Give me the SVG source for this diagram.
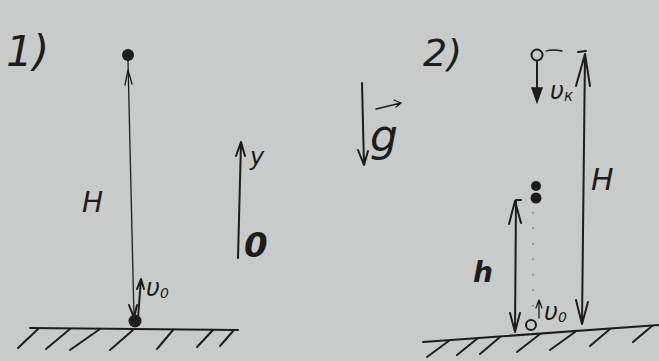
<svg xmlns="http://www.w3.org/2000/svg" width="659" height="361" viewBox="0 0 659 361">
<style>
.ink{stroke:#1d1d1d;fill:none;stroke-linecap:round;stroke-linejoin:round}
.thin{stroke-width:1.3}
.med{stroke-width:2}
.thick{stroke-width:2.6}
.t{font-family:"DejaVu Sans","Liberation Sans",sans-serif;font-style:italic;fill:#1d1d1d}
</style>
<rect width="659" height="361" fill="#c9cbca"/>
<g id="diagram1">
  <text class="t" x="6" y="66" font-size="42">1)</text>
  <g id="ball-top"><circle cx="128" cy="55" r="6" fill="#1d1d1d"/></g>
  <g id="ball-bottom"><circle cx="135" cy="321" r="6.5" fill="#1d1d1d"/></g>
  <g id="label-H1"><text class="t" x="82" y="212" font-size="28">H</text></g>
  <g id="label-v0-1"><text class="t" x="146" y="296" font-size="24">υ<tspan font-size="14" dy="2">0</tspan></text></g>
  <g id="y-axis">
    <path class="ink med" d="M238 258 L241 142 M236 156 L241 142 L245 156"/>
    <text class="t" x="250" y="165" font-size="24">y</text>
    <text class="t" x="244" y="257" font-size="34" font-weight="bold">0</text>
  </g>
  <g id="g-vector">
    <path class="ink med" d="M362 83 L364 165 M358 150 L364 165 L368 151"/>
    <path class="ink thin" d="M376 109 L401 103 M394 100 L401 103 L396 107"/>
    <text class="t" x="370" y="151" font-size="44">g</text>
  </g>
  <g id="ground1">
    <path class="ink med" d="M30 328 L238 330"/>
    <path class="ink med" d="M38 329 L18 348 M70 329 L46 349 M100 329 L70 350 M133 330 L110 350 M173 330 L157 349 M213 330 L197 347 M234 330 L220 346"/>
  </g>
</g>
<g id="connectors">
  <path class="ink thin" d="M128 61 L134 318"/>
  <path class="ink thin" d="M125 85 L128 70 L132 84"/>
  <path class="ink med" d="M129 305 L134 318 L137 305"/>
  <path class="ink med" d="M138 318 L141 279 M137 289 L141 279 L144 289"/>
  <path class="ink med" d="M585 54 L582 323 M576 86 L585 54 L590 86 M576 300 L582 324 L588 302 M578 52 L586 51"/>
  <path class="ink med" d="M516 200 L515 332 M509 224 L515 201 L521 223 M510 313 L515 332 L520 313 M517 200 L521 200"/>
  <path class="ink med" d="M537 62 L537 92"/>
  <path d="M532 88 L537 102 L542 88 Z" fill="#1d1d1d" stroke="#1d1d1d" stroke-width="1.5"/>
  <path d="M533 212 L533 310" stroke="#6f716f" stroke-width="1.2" stroke-dasharray="1.5 14" fill="none"/>
  <path class="ink thin" d="M539 318 L539 302 M536 308 L539 300 L542 308"/>
</g>
<g id="diagram2">
  <text class="t" x="423" y="66" font-size="38">2)</text>
  <g id="ball-top2">
    <circle class="ink med" cx="537" cy="55" r="5.5"/>
    <path class="ink thin" d="M546 51 Q553 49 562 51"/>
  </g>
  <g id="label-vk"><text class="t" x="550" y="99" font-size="24">υ<tspan font-size="15" dy="2">к</tspan></text></g>
  <g id="ball-mid">
    <circle cx="536" cy="186" r="5" fill="#1d1d1d"/>
    <circle cx="536" cy="198" r="5.5" fill="#1d1d1d"/>
  </g>
  <g id="label-H2"><text class="t" x="591" y="190" font-size="30">H</text></g>
  <g id="label-h"><text class="t" x="473" y="282" font-size="28" font-weight="bold">h</text></g>
  <g id="ball-bottom2"><circle class="ink med" cx="531" cy="325" r="5"/></g>
  <g id="label-v0-2"><text class="t" x="544" y="320" font-size="24">υ<tspan font-size="14" dy="2">0</tspan></text></g>
  <g id="ground2">
    <path class="ink med" d="M423 342 L659 325"/>
    <path class="ink med" d="M450 340 L427 357 M478 338 L457 355 M500 337 L480 354 M540 334 L517 352 M575 332 L550 350 M610 329 L590 346 M652 326 L633 342"/>
  </g>
</g>
</svg>
